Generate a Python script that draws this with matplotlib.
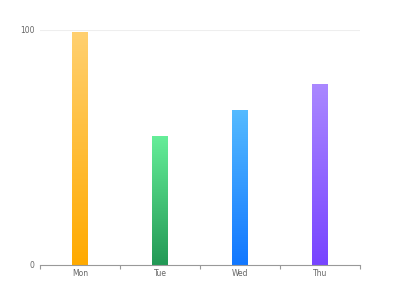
import matplotlib.pyplot as plt
import numpy as np
from matplotlib.colors import LinearSegmentedColormap

days = ['Mon', 'Tue', 'Wed', 'Thu']
values = [99, 55, 66, 77]
top_colors = ['#FFD070', '#66EE99', '#55BBFF', '#AA88FF']
bottom_colors = ['#FFAA00', '#229955', '#1177FF', '#7744FF']

fig = plt.figure(figsize=(4, 3), dpi=100)
ax = fig.add_axes([0.1, 0.1167, 0.8, 0.7833])

x = np.arange(len(days))
bars = ax.bar(x, values, width=0.19, color='none', edgecolor='none')

# fill each bar with a vertical gradient, light at the top
grad = np.linspace(0, 1, 256).reshape(-1, 1)
for bar, c_top, c_bot in zip(bars, top_colors, bottom_colors):
    cmap = LinearSegmentedColormap.from_list('g', [c_bot, c_top])
    x0, y0 = bar.get_x(), bar.get_y()
    w, h = bar.get_width(), bar.get_height()
    im = ax.imshow(grad, cmap=cmap, aspect='auto', origin='lower',
                   extent=[x0, x0 + w, y0, y0 + h], zorder=2)
    im.set_clip_path(bar)

ax.set_xlim(-0.5, len(days) - 0.5)
ax.set_ylim(0, 100)
ax.set_yticks([0, 100])
ax.set_xticks(x)
ax.set_xticklabels(days)
ax.set_xticks(np.arange(-0.5, len(days)), minor=True)

for s in ['top', 'right', 'left']:
    ax.spines[s].set_visible(False)
ax.spines['bottom'].set_color('#999999')
ax.spines['bottom'].set_linewidth(0.8)

ax.tick_params(axis='x', which='major', length=0, pad=3, labelsize=5.5, labelcolor='#666666')
ax.tick_params(axis='x', which='minor', length=3, width=0.8, color='#999999')
ax.tick_params(axis='y', length=0, pad=4, labelsize=5.5, labelcolor='#666666')

ax.axhline(100, color='#eeeeee', linewidth=0.8, zorder=0)

fig.savefig('out.png', dpi=100)
